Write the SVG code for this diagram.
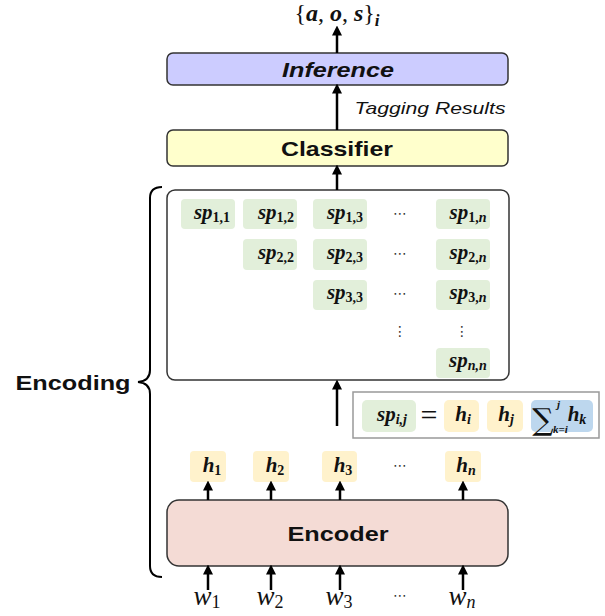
<svg xmlns="http://www.w3.org/2000/svg" width="605" height="616" viewBox="0 0 605 616">
<style>
.box{stroke:#333;stroke-width:1.5}
.lbl{font-family:"Liberation Sans",Arial,sans-serif;font-weight:bold;font-size:21px;text-anchor:middle;fill:#111}
.m{font-family:"Liberation Serif","DejaVu Serif",serif;font-weight:bold;font-style:italic;font-size:21px;fill:#111;text-anchor:middle}
.sub{font-size:14px}
.up{font-style:normal}
.sp{fill:#e2efda}
.h{fill:#fff2cc}
.dots{font-family:"DejaVu Sans",sans-serif;font-size:14px;fill:#333;text-anchor:middle}
.w{font-family:"Liberation Serif","DejaVu Serif",serif;font-style:italic;font-size:27px;fill:#111;text-anchor:middle}
.arr{stroke:#000;stroke-width:2.5;fill:none;marker-end:url(#ah)}
</style>
<defs>
<marker id="ah" markerWidth="4" markerHeight="4" refX="2.2" refY="2" orient="auto" markerUnits="strokeWidth">
<path d="M0,0 L4,2 L0,4 z" fill="#000"/>
</marker>
</defs>
<rect width="605" height="616" fill="#fff"/>

<g id="output">
<text x="337" y="21" font-family="Liberation Serif,serif" font-size="24" text-anchor="middle" fill="#111">{<tspan font-weight="bold" font-style="italic">a</tspan>, <tspan font-weight="bold" font-style="italic">o</tspan>, <tspan font-weight="bold" font-style="italic">s</tspan>}<tspan font-style="italic" font-weight="bold" font-size="17" dy="5">i</tspan></text>
</g>

<g id="inference">
<rect class="box" x="167" y="53" width="341" height="32" rx="6" fill="#ccccff"/>
<text class="lbl" x="338" y="77" font-style="italic" textLength="112" lengthAdjust="spacingAndGlyphs">Inference</text>
</g>

<g id="tagging-label">
<text x="430" y="114" font-family="Liberation Sans,Arial,sans-serif" font-style="italic" font-size="17" text-anchor="middle" fill="#111" textLength="151" lengthAdjust="spacingAndGlyphs">Tagging Results</text>
</g>

<g id="classifier">
<rect class="box" x="167" y="130" width="341" height="36" rx="6" fill="#ffffcc"/>
<text class="lbl" x="337" y="156" textLength="112" lengthAdjust="spacingAndGlyphs">Classifier</text>
</g>

<g id="span-grid">
<rect class="box" x="167" y="190" width="342" height="190" rx="8" fill="#fff"/>
<g class="cells">
<rect class="sp" x="181" y="199" width="54" height="30" rx="4"/>
<rect class="sp" x="243" y="199" width="54" height="30" rx="4"/>
<rect class="sp" x="313" y="199" width="54" height="30" rx="4"/>
<rect class="sp" x="436" y="199" width="54" height="30" rx="4"/>
<rect class="sp" x="243" y="239" width="54" height="31" rx="4"/>
<rect class="sp" x="313" y="239" width="54" height="31" rx="4"/>
<rect class="sp" x="436" y="239" width="54" height="31" rx="4"/>
<rect class="sp" x="313" y="280" width="54" height="30" rx="4"/>
<rect class="sp" x="436" y="280" width="54" height="30" rx="4"/>
<rect class="sp" x="436" y="348" width="54" height="30" rx="4"/>
</g>
<text class="m" x="212" y="219">sp<tspan class="sub up" dy="3">1,1</tspan></text>
<text class="m" x="276" y="219">sp<tspan class="sub up" dy="3">1,2</tspan></text>
<text class="m" x="345" y="219">sp<tspan class="sub up" dy="3">1,3</tspan></text>
<text class="m" x="468" y="219">sp<tspan class="sub up" dy="3">1,</tspan><tspan class="sub">n</tspan></text>
<text class="m" x="276" y="259">sp<tspan class="sub up" dy="3">2,2</tspan></text>
<text class="m" x="345" y="259">sp<tspan class="sub up" dy="3">2,3</tspan></text>
<text class="m" x="468" y="259">sp<tspan class="sub up" dy="3">2,</tspan><tspan class="sub">n</tspan></text>
<text class="m" x="345" y="299">sp<tspan class="sub up" dy="3">3,3</tspan></text>
<text class="m" x="468" y="299">sp<tspan class="sub up" dy="3">3,</tspan><tspan class="sub">n</tspan></text>
<text class="m" x="468" y="367">sp<tspan class="sub" dy="3">n,n</tspan></text>
<text class="dots" x="400" y="218">⋯</text>
<text class="dots" x="400" y="258">⋯</text>
<text class="dots" x="400" y="298">⋯</text>
<text class="dots" x="400" y="336">⋮</text>
<text class="dots" x="462" y="336">⋮</text>
</g>

<g id="formula">
<rect x="353" y="392" width="246" height="46" fill="#fff" stroke="#999" stroke-width="1.5"/>
<rect class="sp" x="362" y="400" width="54" height="32" rx="5"/>
<text class="m" x="392" y="421">sp<tspan class="sub" dy="3">i,j</tspan></text>
<text x="429" y="425" font-family="Liberation Serif,serif" font-size="30" text-anchor="middle" fill="#111">=</text>
<rect class="h" x="444" y="400" width="35" height="32" rx="5"/>
<text class="m" x="463" y="421">h<tspan class="sub" dy="3">i</tspan></text>
<rect class="h" x="487" y="400" width="36" height="32" rx="5"/>
<text class="m" x="506" y="421">h<tspan class="sub" dy="3">j</tspan></text>
<rect x="531" y="400" width="62" height="32" rx="5" fill="#bdd7ee"/>
<text x="543" y="430" font-family="DejaVu Serif,serif" font-size="30" text-anchor="middle" fill="#111">∑</text>
<text x="557" y="408" font-family="Liberation Serif,serif" font-style="italic" font-weight="bold" font-size="11" fill="#111">j</text>
<text x="553" y="433" font-family="Liberation Serif,serif" font-style="italic" font-weight="bold" font-size="11" fill="#111">k=i</text>
<text class="m" x="577" y="421">h<tspan class="sub" dy="3">k</tspan></text>
</g>

<g id="hidden">
<rect class="h" x="190" y="451" width="36" height="31" rx="4"/>
<rect class="h" x="253" y="451" width="36" height="31" rx="4"/>
<rect class="h" x="322" y="451" width="35" height="31" rx="4"/>
<rect class="h" x="445" y="451" width="36" height="31" rx="4"/>
<text class="m" x="212" y="472">h<tspan class="sub up" dy="3">1</tspan></text>
<text class="m" x="275" y="472">h<tspan class="sub up" dy="3">2</tspan></text>
<text class="m" x="343" y="472">h<tspan class="sub up" dy="3">3</tspan></text>
<text class="m" x="466" y="472">h<tspan class="sub" dy="3">n</tspan></text>
<text class="dots" x="400" y="470">⋯</text>
</g>

<g id="encoder">
<rect class="box" x="167" y="500" width="341" height="66" rx="12" fill="#f4dbd5"/>
<text class="lbl" x="338" y="541" textLength="101" lengthAdjust="spacingAndGlyphs">Encoder</text>
</g>

<g id="inputs">
<text class="w" x="207" y="605">w<tspan font-size="18" font-style="normal" dy="3">1</tspan></text>
<text class="w" x="270" y="605">w<tspan font-size="18" font-style="normal" dy="3">2</tspan></text>
<text class="w" x="339" y="605">w<tspan font-size="18" font-style="normal" dy="3">3</tspan></text>
<text class="w" x="462" y="605">w<tspan font-size="18" dy="3">n</tspan></text>
<text class="dots" x="400" y="600">⋯</text>
</g>

<g id="encoding-brace">
<path d="M162,187 Q150,187 150,198 L150,370 Q150,381 138,382 Q150,383 150,394 L150,566 Q150,577 162,577" fill="none" stroke="#000" stroke-width="2"/>
<text x="73" y="390" font-family="Liberation Sans,Arial,sans-serif" font-weight="bold" font-size="21" text-anchor="middle" fill="#111" textLength="115" lengthAdjust="spacingAndGlyphs">Encoding</text>
</g>

<g id="connectors">
<line class="arr" x1="337" y1="53" x2="337" y2="30"/>
<line class="arr" x1="337" y1="130" x2="337" y2="88"/>
<line class="arr" x1="337" y1="190" x2="337" y2="169"/>
<line class="arr" x1="337" y1="426" x2="337" y2="384"/>
<line class="arr" x1="208" y1="500" x2="208" y2="485"/>
<line class="arr" x1="271" y1="500" x2="271" y2="485"/>
<line class="arr" x1="340" y1="500" x2="340" y2="485"/>
<line class="arr" x1="463" y1="500" x2="463" y2="485"/>
<line class="arr" x1="208" y1="590" x2="208" y2="569"/>
<line class="arr" x1="271" y1="590" x2="271" y2="569"/>
<line class="arr" x1="340" y1="590" x2="340" y2="569"/>
<line class="arr" x1="463" y1="590" x2="463" y2="569"/>
</g>
</svg>
